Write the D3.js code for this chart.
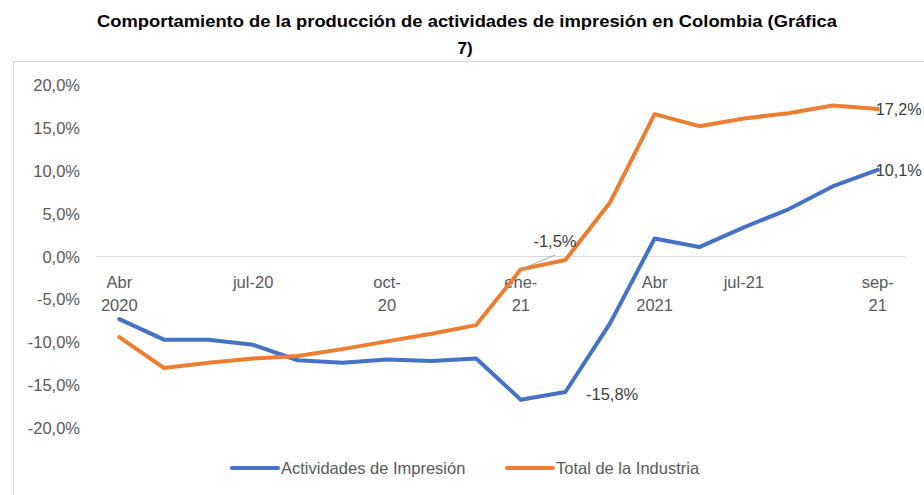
<html>
<head>
<meta charset="utf-8" />
<title>Actividades de impresión</title>
<script src="https://d3js.org/d3.v7.min.js"></script>
<style>
  body { margin: 0; background: #fff; }
  text { font-family: "Liberation Sans", Arial, sans-serif; }
</style>
</head>
<body>
<svg width="924" height="495" id="svg1"></svg>
<script>
// datos
var meses = ["abr-20","may-20","jun-20","jul-20","ago-20","sep-20","oct-20","nov-20","dic-20",
             "ene-21","feb-21","mar-21","abr-21","may-21","jun-21","jul-21","ago-21","sep-21"];
var impresion = [-7.3,-9.7,-9.7,-10.3,-12.1,-12.4,-12.0,-12.2,-11.9,-16.7,-15.8,-7.8,2.1,1.1,3.4,5.5,8.2,10.1];
var industria = [-9.4,-13.0,-12.4,-11.9,-11.6,-10.8,-9.9,-9.0,-8.0,-1.5,-0.4,6.3,16.6,15.2,16.1,16.7,17.6,17.2];
// etiquetas del eje x (como aparecen en la grafica original)
var etiquetasX = {"abr-20":["Abr","2020"],"jul-20":["jul-20"],"oct-20":["oct-","20"],"ene-21":["ene-","21"],
                  "abr-21":["Abr","2021"],"jun-21":["jul-21"],"sep-21":["sep-","21"]};
var ticksY = [20,15,10,5,0,-5,-10,-15,-20];
var series = [
  {nombre: "Actividades de Impresión", valores: impresion, color: "#4472C4"},
  {nombre: "Total de la Industria", valores: industria, color: "#ED7D31"}
];

var svg = d3.select("#svg1");
var fs = 16.5;
var fmt = function(v) { return d3.format(".1f")(v).replace(".", ",").replace("−", "-") + "%"; };

// marco
svg.append("rect").attr("x", 13.5).attr("y", 61.5).attr("width", 1000).attr("height", 1000)
  .attr("fill", "none").attr("stroke", "#d9d9d9");

// titulo
svg.append("text").attr("x", 467).attr("y", 27).attr("text-anchor", "middle")
  .attr("font-size", 17).attr("font-weight", "bold").attr("fill", "#000")
  .attr("textLength", 740).attr("lengthAdjust", "spacingAndGlyphs")
  .text("Comportamiento de la producción de actividades de impresión en Colombia (Gráfica");
svg.append("text").attr("x", 465).attr("y", 54).attr("text-anchor", "middle")
  .attr("font-size", 17).attr("font-weight", "bold").attr("fill", "#000").text("7)");

var x = d3.scalePoint().domain(meses).range([97, 900]).padding(0.5);
var y = d3.scaleLinear().domain([-20, 20]).range([428, 85]);

// eje y
svg.append("g").selectAll("text").data(ticksY).enter().append("text")
  .attr("x", 80).attr("y", function(d) { return y(d) + 6; })
  .attr("text-anchor", "end").attr("font-size", fs).attr("fill", "#595959")
  .text(fmt);

// linea de cero
svg.append("line").attr("x1", 97).attr("x2", 905).attr("y1", y(0)).attr("y2", y(0))
  .attr("stroke", "#d9d9d9").attr("stroke-width", 1);

// etiquetas x
var gx = svg.append("g");
meses.forEach(function(m) {
  if (!etiquetasX[m]) return;
  etiquetasX[m].forEach(function(t, i) {
    gx.append("text").attr("x", x(m)).attr("y", 288 + i * 23)
      .attr("text-anchor", "middle").attr("font-size", fs).attr("fill", "#595959").text(t);
  });
});

// lineas
var line = d3.line().x(function(d, i) { return x(meses[i]); }).y(function(d) { return y(d); });
series.forEach(function(s) {
  svg.append("path").datum(s.valores).attr("d", line)
    .attr("fill", "none").attr("stroke", s.color).attr("stroke-width", 4)
    .attr("stroke-linejoin", "round").attr("stroke-linecap", "round");
});

// etiquetas de datos
svg.append("line").attr("x1", x("ene-21")).attr("y1", y(industria[9]))
  .attr("x2", 555).attr("y2", 255).attr("stroke", "#a6a6a6").attr("stroke-width", 1);
var etiquetas = [
  {v: industria[9], x: 555, y: 247, anchor: "middle"},
  {v: impresion[10], x: 586, y: 400, anchor: "start"},
  {v: industria[17], x: x("sep-21") - 2, y: y(industria[17]) + 6, anchor: "start", w: 46},
  {v: impresion[17], x: x("sep-21") - 2, y: y(impresion[17]) + 6, anchor: "start", w: 46}
];
svg.append("g").selectAll("text").data(etiquetas).enter().append("text")
  .attr("x", function(d) { return d.x; }).attr("y", function(d) { return d.y; })
  .attr("text-anchor", function(d) { return d.anchor; })
  .attr("textLength", function(d) { return d.w || null; })
  .attr("lengthAdjust", "spacingAndGlyphs")
  .attr("font-size", fs).attr("fill", "#404040").text(function(d) { return fmt(d.v); });

// leyenda
var leg = [{x: 232}, {x: 507}];
series.forEach(function(s, i) {
  svg.append("line").attr("x1", leg[i].x).attr("x2", leg[i].x + 46).attr("y1", 468).attr("y2", 468)
    .attr("stroke", s.color).attr("stroke-width", 4).attr("stroke-linecap", "round");
  svg.append("text").attr("x", leg[i].x + 49).attr("y", 474).attr("font-size", fs)
    .attr("fill", "#595959").text(s.nombre);
});
</script>
</body>
</html>
